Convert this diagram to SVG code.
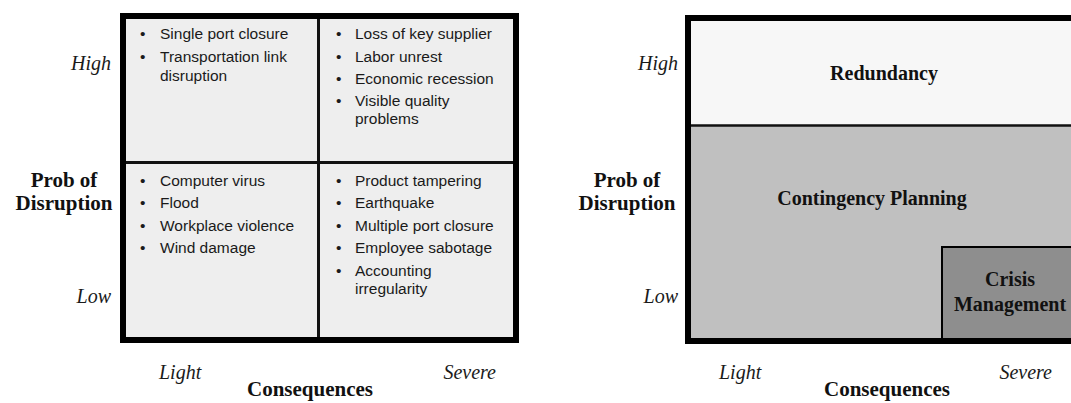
<svg xmlns="http://www.w3.org/2000/svg" width="1071" height="403" viewBox="0 0 1071 403">
<style>
.bul{font-family:"Liberation Sans",Arial,sans-serif;font-size:15.5px;fill:#1a1a1a}
.it{font-family:"Liberation Serif","Times New Roman",serif;font-style:italic;font-size:20px;fill:#1a1a1a}
.ax{font-family:"Liberation Serif","Times New Roman",serif;font-weight:bold;font-size:21px;fill:#111}
.zone{font-family:"Liberation Serif","Times New Roman",serif;font-weight:bold;font-size:20px;fill:#111;text-anchor:middle}
.frame{fill:none;stroke:#000;stroke-width:6}
.div{stroke:#111;stroke-width:3}
</style>
<rect width="1071" height="403" fill="#fff"/>

<!-- LEFT MATRIX -->
<g id="left-matrix">
  <rect x="123" y="16" width="393" height="324" fill="#eeeeee"/>
  <line class="div" x1="318.5" y1="16" x2="318.5" y2="340"/>
  <line class="div" x1="123" y1="162.5" x2="516" y2="162.5"/>
  <rect class="frame" x="123" y="16" width="393" height="324"/>
</g>
<g id="q-high-light" class="bul">
  <text x="140" y="39">•</text><text x="160" y="39">Single port closure</text>
  <text x="140" y="62">•</text><text x="160" y="62">Transportation link</text>
  <text x="160" y="81">disruption</text>
</g>
<g id="q-high-severe" class="bul">
  <text x="336" y="39">•</text><text x="355" y="39">Loss of key supplier</text>
  <text x="336" y="62">•</text><text x="355" y="62">Labor unrest</text>
  <text x="336" y="84">•</text><text x="355" y="84">Economic recession</text>
  <text x="336" y="106">•</text><text x="355" y="106">Visible quality</text>
  <text x="355" y="124">problems</text>
</g>
<g id="q-low-light" class="bul">
  <text x="140" y="186">•</text><text x="160" y="186">Computer virus</text>
  <text x="140" y="208">•</text><text x="160" y="208">Flood</text>
  <text x="140" y="231">•</text><text x="160" y="231">Workplace violence</text>
  <text x="140" y="253">•</text><text x="160" y="253">Wind damage</text>
</g>
<g id="q-low-severe" class="bul">
  <text x="336" y="186">•</text><text x="355" y="186">Product tampering</text>
  <text x="336" y="208">•</text><text x="355" y="208">Earthquake</text>
  <text x="336" y="231">•</text><text x="355" y="231">Multiple port closure</text>
  <text x="336" y="253">•</text><text x="355" y="253">Employee sabotage</text>
  <text x="336" y="276">•</text><text x="355" y="276">Accounting</text>
  <text x="355" y="294">irregularity</text>
</g>
<g id="left-axes">
  <text class="it" x="111" y="70" text-anchor="end">High</text>
  <text class="it" x="111" y="303" text-anchor="end">Low</text>
  <text class="ax" x="64" y="187" text-anchor="middle">Prob of</text>
  <text class="ax" x="64" y="210" text-anchor="middle">Disruption</text>
  <text class="it" x="159" y="379">Light</text>
  <text class="it" x="496" y="379" text-anchor="end">Severe</text>
  <text class="ax" x="310" y="396" text-anchor="middle">Consequences</text>
</g>

<!-- RIGHT MATRIX -->
<g id="redundancy">
  <rect x="688" y="18" width="400" height="108" fill="#f7f7f7"/>
  <text class="zone" x="884" y="80">Redundancy</text>
</g>
<g id="contingency-planning">
  <rect x="688" y="126" width="400" height="214" fill="#c0c0c0"/>
  <line x1="688" y1="125.5" x2="1071" y2="125.5" stroke="#111" stroke-width="2.5"/>
  <text class="zone" x="872" y="205">Contingency Planning</text>
</g>
<g id="crisis-management">
  <rect x="942" y="247" width="200" height="92" fill="#8e8e8e" stroke="#000" stroke-width="2"/>
  <text class="zone" x="1010" y="286">Crisis</text>
  <text class="zone" x="1010" y="311">Management</text>
</g>
<g id="right-frame">
  <rect class="frame" x="688" y="18" width="400" height="323"/>
</g>
<g id="right-axes">
  <text class="it" x="678" y="70" text-anchor="end">High</text>
  <text class="it" x="678" y="303" text-anchor="end">Low</text>
  <text class="ax" x="627" y="187" text-anchor="middle">Prob of</text>
  <text class="ax" x="627" y="210" text-anchor="middle">Disruption</text>
  <text class="it" x="719" y="379">Light</text>
  <text class="it" x="1052" y="379" text-anchor="end">Severe</text>
  <text class="ax" x="887" y="396" text-anchor="middle">Consequences</text>
</g>
<g id="connectors"/>
</svg>
